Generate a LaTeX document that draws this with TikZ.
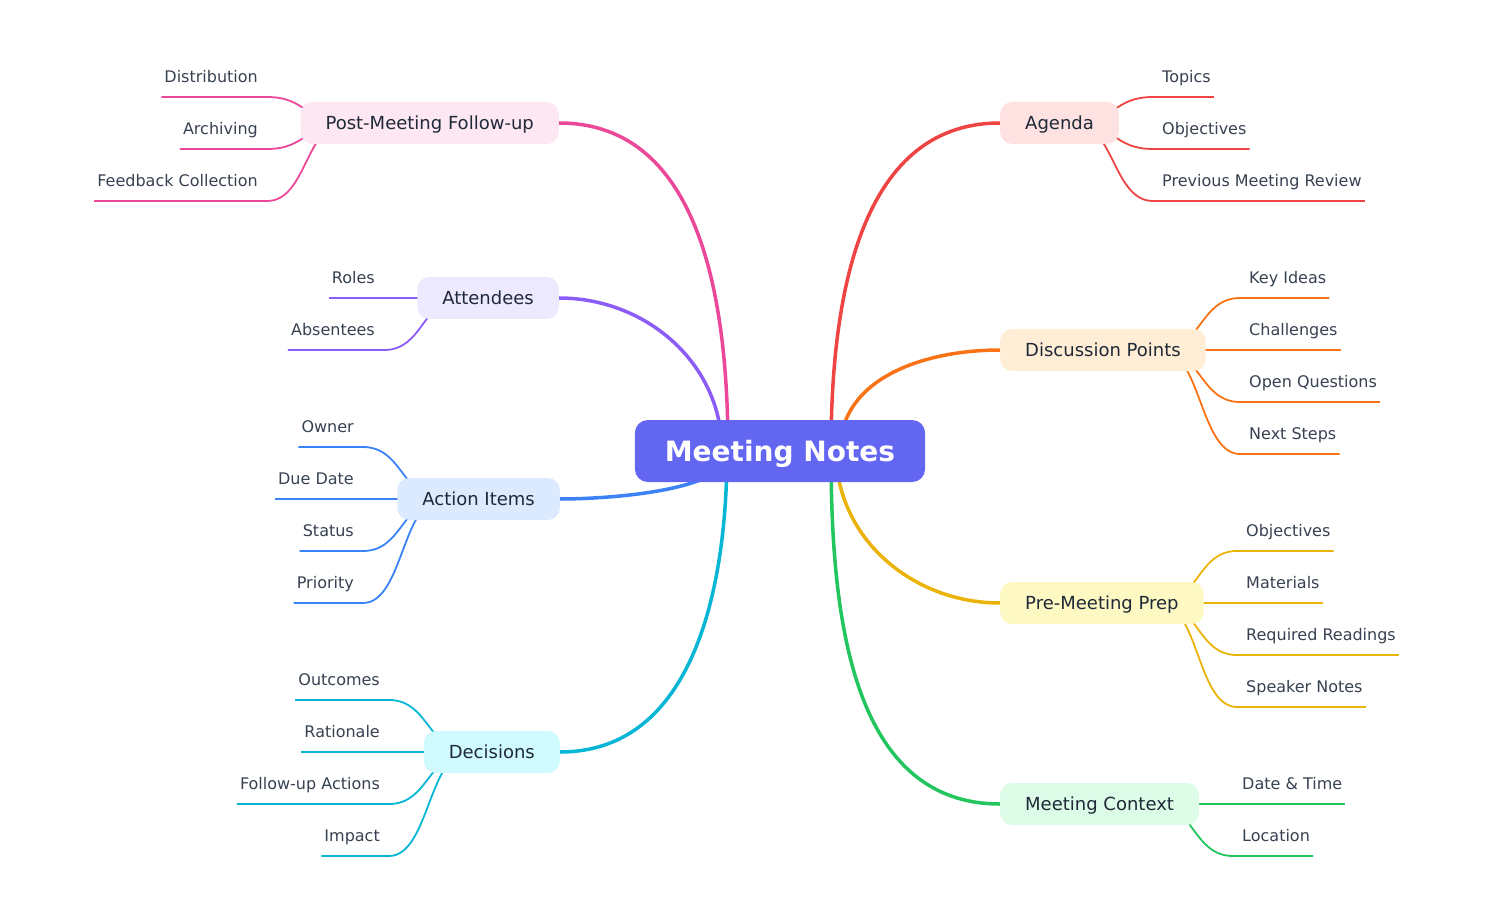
\documentclass[tikz,border=0pt]{standalone}
\usepackage{fontspec}
\setmainfont{DejaVu Sans}
\usepackage{tikz}
\usetikzlibrary{positioning,calc,backgrounds}
\definecolor{rootblue}{HTML}{6366F1}
\definecolor{nodetext}{HTML}{1F2937}
\definecolor{leafgray}{HTML}{374151}
\definecolor{agendared}{HTML}{EF4444}
\definecolor{agendafill}{HTML}{FEE2E2}
\definecolor{discorange}{HTML}{F97316}
\definecolor{discfill}{HTML}{FFEDD5}
\definecolor{prepyellow}{HTML}{EAB308}
\definecolor{prepfill}{HTML}{FEF9C3}
\definecolor{ctxgreen}{HTML}{22C55E}
\definecolor{ctxfill}{HTML}{DCFCE7}
\definecolor{postpink}{HTML}{EC4899}
\definecolor{postfill}{HTML}{FCE7F3}
\definecolor{attviolet}{HTML}{8B5CF6}
\definecolor{attfill}{HTML}{EDE9FE}
\definecolor{actblue}{HTML}{3B82F6}
\definecolor{actfill}{HTML}{DBEAFE}
\definecolor{deccyan}{HTML}{06B6D4}
\definecolor{decfill}{HTML}{CFFAFE}

\tikzset{
  rootnode/.style={fill=rootblue, text=white, rounded corners=13pt, inner xsep=30pt,
    minimum height=62pt, text height=26pt, text depth=4.6pt,
    font=\fontsize{28}{34}\selectfont\bfseries},
  branch/.style={rounded corners=12pt, inner xsep=25pt, minimum height=42pt,
    text height=16pt, text depth=3pt, text=nodetext, font=\fontsize{18}{22}\selectfont},
  leaf/.style={inner xsep=3pt, inner ysep=0pt, text height=12pt, text depth=14.5pt,
    text=leafgray, font=\fontsize{16}{19}\selectfont},
  rootlink/.style={line width=3.5pt},
  leaflink/.style={line width=1.8pt},
}

\begin{document}
\begin{tikzpicture}[x=1pt,y=-1pt]
  \useasboundingbox (0,0) rectangle (1494,901);

  % Centre and main branches
  \node[rootnode] (root) at (780,451) {Meeting Notes};
  \node[branch, fill=agendafill, anchor=west] (agenda) at (1000,123) {Agenda};
  \node[branch, fill=discfill, anchor=west] (disc) at (1000,350) {Discussion Points};
  \node[branch, fill=prepfill, anchor=west] (prep) at (1000,603) {Pre-Meeting Prep};
  \node[branch, fill=ctxfill, anchor=west] (ctx) at (1000,804) {Meeting Context};
  \node[branch, fill=postfill, anchor=east] (post) at (559,123) {Post-Meeting Follow-up};
  \node[branch, fill=attfill, anchor=east] (att) at (559,298) {Attendees};
  \node[branch, fill=actfill, anchor=east] (act) at (560,499) {Action Items};
  \node[branch, fill=decfill, anchor=east] (dec) at (560,752) {Decisions};

  % Links from the centre
  \begin{scope}[on background layer]
    \draw[rootlink, agendared] ([xshift=51pt]root.center) to[out=90,in=180] (agenda.west);
    \draw[rootlink, discorange] ([xshift=60pt]root.center) to[out=90,in=180] (disc.west);
    \draw[rootlink, prepyellow] ([xshift=56pt]root.center) to[out=-90,in=180] (prep.west);
    \draw[rootlink, ctxgreen] ([xshift=51pt]root.center) to[out=-90,in=180] (ctx.west);
    \draw[rootlink, postpink] ([xshift=-52pt]root.center) to[out=90,in=0] (post.east);
    \draw[rootlink, attviolet] ([xshift=-58pt]root.center) to[out=90,in=0] (att.east);
    \draw[rootlink, actblue] ([xshift=-50pt]root.center) to[out=-90,in=0,looseness=0.6] (act.east);
    \draw[rootlink, deccyan] ([xshift=-53pt]root.center) to[out=-90,in=0] (dec.east);
  \end{scope}

  % Right leaves
  \foreach \id/\y/\txt in {a1/97/Topics, a2/149/Objectives, a3/201/Previous Meeting Review} {
    \node[leaf, anchor=south west] (\id) at (1159,\y) {\txt};
    \begin{scope}[on background layer]
      \draw[leaflink, agendared] ([xshift=-45pt]agenda.east) .. controls +(40,0) and +(-40,0)
        .. ([xshift=-6pt]\id.south west) -- (\id.south east);
    \end{scope}
  }
  \foreach \id/\y/\txt in {k1/298/Key Ideas, k2/350/Challenges, k3/402/Open Questions, k4/454/Next Steps} {
    \node[leaf, anchor=south west] (\id) at (1246,\y) {\txt};
    \begin{scope}[on background layer]
      \draw[leaflink, discorange] ([xshift=-45pt]disc.east) .. controls +(40,0) and +(-40,0)
        .. ([xshift=-6pt]\id.south west) -- (\id.south east);
    \end{scope}
  }
  \foreach \id/\y/\txt in {p1/551/Objectives, p2/603/Materials, p3/655/Required Readings, p4/707/Speaker Notes} {
    \node[leaf, anchor=south west] (\id) at (1243,\y) {\txt};
    \begin{scope}[on background layer]
      \draw[leaflink, prepyellow] ([xshift=-45pt]prep.east) .. controls +(40,0) and +(-40,0)
        .. ([xshift=-6pt]\id.south west) -- (\id.south east);
    \end{scope}
  }
  \foreach \id/\y/\txt in {c1/804/Date \& Time, c2/856/Location} {
    \node[leaf, anchor=south west] (\id) at (1239,\y) {\txt};
    \begin{scope}[on background layer]
      \draw[leaflink, ctxgreen] ([xshift=-45pt]ctx.east) .. controls +(40,0) and +(-40,0)
        .. ([xshift=-6pt]\id.south west) -- (\id.south east);
    \end{scope}
  }

  % Left leaves
  \foreach \id/\y/\txt in {f1/97/Distribution, f2/149/Archiving, f3/201/Feedback Collection} {
    \node[leaf, anchor=south east] (\id) at (261,\y) {\txt};
    \begin{scope}[on background layer]
      \draw[leaflink, postpink] ([xshift=45pt]post.west) .. controls +(-40,0) and +(40,0)
        .. ([xshift=6pt]\id.south east) -- (\id.south west);
    \end{scope}
  }
  \foreach \id/\y/\txt in {t1/298/Roles, t2/350/Absentees} {
    \node[leaf, anchor=south east] (\id) at (378,\y) {\txt};
    \begin{scope}[on background layer]
      \draw[leaflink, attviolet] ([xshift=45pt]att.west) .. controls +(-40,0) and +(40,0)
        .. ([xshift=6pt]\id.south east) -- (\id.south west);
    \end{scope}
  }
  \foreach \id/\y/\txt in {i1/447/Owner, i2/499/Due Date, i3/551/Status, i4/603/Priority} {
    \node[leaf, anchor=south east] (\id) at (357,\y) {\txt};
    \begin{scope}[on background layer]
      \draw[leaflink, actblue] ([xshift=45pt]act.west) .. controls +(-40,0) and +(40,0)
        .. ([xshift=6pt]\id.south east) -- (\id.south west);
    \end{scope}
  }
  \foreach \id/\y/\txt in {d1/700/Outcomes, d2/752/Rationale, d3/804/Follow-up Actions, d4/856/Impact} {
    \node[leaf, anchor=south east] (\id) at (383,\y) {\txt};
    \begin{scope}[on background layer]
      \draw[leaflink, deccyan] ([xshift=45pt]dec.west) .. controls +(-40,0) and +(40,0)
        .. ([xshift=6pt]\id.south east) -- (\id.south west);
    \end{scope}
  }
\end{tikzpicture}
\end{document}
